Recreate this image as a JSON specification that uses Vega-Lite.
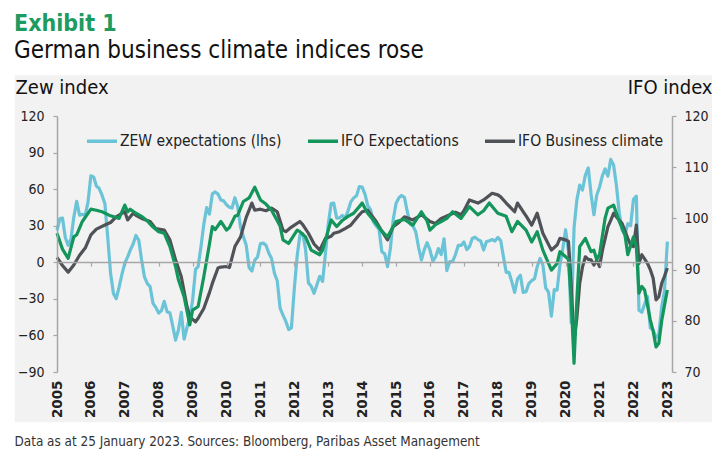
{
"$schema": "https://vega.github.io/schema/vega-lite/v6.json",
"width": 615, "height": 256,
"autosize": {"type": "none"},
"padding": {"left": 57, "top": 116, "right": 53, "bottom": 88},
"background": "white",
"title": {"text": "Exhibit 1", "subtitle": "German business climate indices rose", "anchor": "start", "frame": "group", "dx": -43, "offset": 12,
  "font": "DejaVu Sans Condensed", "fontSize": 23, "fontWeight": "bold", "color": "#1e9b60",
  "subtitleFont": "DejaVu Sans Condensed", "subtitleFontSize": 24, "subtitleColor": "#111", "subtitlePadding": 3},
"datasets": {
"zew": [
{"d":"2005-01","v":26.1},{"d":"2005-02","v":35.9},{"d":"2005-03","v":36.3},{"d":"2005-04","v":20.1},{"d":"2005-05","v":13.9},{"d":"2005-06","v":19.5},{"d":"2005-07","v":37.0},{"d":"2005-08","v":50.0},{"d":"2005-09","v":38.6},{"d":"2005-10","v":39.3},{"d":"2005-11","v":38.7},{"d":"2005-12","v":49.4},
{"d":"2006-01","v":71.0},{"d":"2006-02","v":69.8},{"d":"2006-03","v":62.6},{"d":"2006-04","v":60.5},{"d":"2006-05","v":55.0},{"d":"2006-06","v":48.0},{"d":"2006-07","v":20.8},{"d":"2006-08","v":-9.0},{"d":"2006-09","v":-25.6},{"d":"2006-10","v":-29.8},{"d":"2006-11","v":-20.3},{"d":"2006-12","v":-10.0},
{"d":"2007-01","v":-0.8},{"d":"2007-02","v":4.4},{"d":"2007-03","v":10.0},{"d":"2007-04","v":15.0},{"d":"2007-05","v":22.0},{"d":"2007-06","v":18.0},{"d":"2007-07","v":2.0},{"d":"2007-08","v":-12.0},{"d":"2007-09","v":-17.5},{"d":"2007-10","v":-20.0},{"d":"2007-11","v":-33.7},{"d":"2007-12","v":-37.0},
{"d":"2008-01","v":-41.6},{"d":"2008-02","v":-39.5},{"d":"2008-03","v":-32.0},{"d":"2008-04","v":-40.7},{"d":"2008-05","v":-41.4},{"d":"2008-06","v":-52.4},{"d":"2008-07","v":-63.9},{"d":"2008-08","v":-55.5},{"d":"2008-09","v":-41.1},{"d":"2008-10","v":-63.0},{"d":"2008-11","v":-53.5},{"d":"2008-12","v":-45.2},
{"d":"2009-01","v":-31.0},{"d":"2009-02","v":-5.8},{"d":"2009-03","v":-3.5},{"d":"2009-04","v":13.0},{"d":"2009-05","v":31.1},{"d":"2009-06","v":44.8},{"d":"2009-07","v":39.5},{"d":"2009-08","v":56.1},{"d":"2009-09","v":57.7},{"d":"2009-10","v":56.0},{"d":"2009-11","v":51.1},{"d":"2009-12","v":50.4},
{"d":"2010-01","v":47.2},{"d":"2010-02","v":45.1},{"d":"2010-03","v":44.5},{"d":"2010-04","v":53.0},{"d":"2010-05","v":45.8},{"d":"2010-06","v":28.7},{"d":"2010-07","v":21.2},{"d":"2010-08","v":14.0},{"d":"2010-09","v":-4.3},{"d":"2010-10","v":-7.2},{"d":"2010-11","v":1.8},{"d":"2010-12","v":4.3},
{"d":"2011-01","v":15.4},{"d":"2011-02","v":15.7},{"d":"2011-03","v":14.1},{"d":"2011-04","v":7.6},{"d":"2011-05","v":3.1},{"d":"2011-06","v":-9.0},{"d":"2011-07","v":-15.1},{"d":"2011-08","v":-37.6},{"d":"2011-09","v":-43.3},{"d":"2011-10","v":-48.3},{"d":"2011-11","v":-55.2},{"d":"2011-12","v":-53.8},
{"d":"2012-01","v":-21.6},{"d":"2012-02","v":5.4},{"d":"2012-03","v":22.3},{"d":"2012-04","v":23.4},{"d":"2012-05","v":10.8},{"d":"2012-06","v":-16.9},{"d":"2012-07","v":-19.6},{"d":"2012-08","v":-25.5},{"d":"2012-09","v":-18.2},{"d":"2012-10","v":-11.5},{"d":"2012-11","v":-15.7},{"d":"2012-12","v":6.9},
{"d":"2013-01","v":31.5},{"d":"2013-02","v":48.2},{"d":"2013-03","v":48.5},{"d":"2013-04","v":36.3},{"d":"2013-05","v":36.4},{"d":"2013-06","v":38.5},{"d":"2013-07","v":36.3},{"d":"2013-08","v":42.0},{"d":"2013-09","v":49.6},{"d":"2013-10","v":52.8},{"d":"2013-11","v":54.6},{"d":"2013-12","v":62.0},
{"d":"2014-01","v":61.7},{"d":"2014-02","v":55.7},{"d":"2014-03","v":46.6},{"d":"2014-04","v":43.2},{"d":"2014-05","v":33.1},{"d":"2014-06","v":29.8},{"d":"2014-07","v":27.1},{"d":"2014-08","v":8.6},{"d":"2014-09","v":6.9},{"d":"2014-10","v":-3.6},{"d":"2014-11","v":11.5},{"d":"2014-12","v":34.9},
{"d":"2015-01","v":48.4},{"d":"2015-02","v":53.0},{"d":"2015-03","v":54.8},{"d":"2015-04","v":53.3},{"d":"2015-05","v":41.9},{"d":"2015-06","v":31.5},{"d":"2015-07","v":29.7},{"d":"2015-08","v":25.0},{"d":"2015-09","v":12.1},{"d":"2015-10","v":1.9},{"d":"2015-11","v":10.4},{"d":"2015-12","v":16.1},
{"d":"2016-01","v":10.2},{"d":"2016-02","v":1.0},{"d":"2016-03","v":4.3},{"d":"2016-04","v":11.2},{"d":"2016-05","v":6.4},{"d":"2016-06","v":19.2},{"d":"2016-07","v":-6.8},{"d":"2016-08","v":0.5},{"d":"2016-09","v":0.5},{"d":"2016-10","v":6.2},{"d":"2016-11","v":13.8},{"d":"2016-12","v":13.8},
{"d":"2017-01","v":16.6},{"d":"2017-02","v":10.4},{"d":"2017-03","v":12.8},{"d":"2017-04","v":19.5},{"d":"2017-05","v":20.6},{"d":"2017-06","v":18.6},{"d":"2017-07","v":17.5},{"d":"2017-08","v":10.0},{"d":"2017-09","v":17.0},{"d":"2017-10","v":17.6},{"d":"2017-11","v":18.7},{"d":"2017-12","v":17.4},
{"d":"2018-01","v":20.4},{"d":"2018-02","v":17.8},{"d":"2018-03","v":5.1},{"d":"2018-04","v":-8.2},{"d":"2018-05","v":-8.2},{"d":"2018-06","v":-16.1},{"d":"2018-07","v":-24.7},{"d":"2018-08","v":-13.7},{"d":"2018-09","v":-10.6},{"d":"2018-10","v":-24.7},{"d":"2018-11","v":-24.1},{"d":"2018-12","v":-17.5},
{"d":"2019-01","v":-15.0},{"d":"2019-02","v":-13.4},{"d":"2019-03","v":-3.6},{"d":"2019-04","v":3.1},{"d":"2019-05","v":-2.1},{"d":"2019-06","v":-21.1},{"d":"2019-07","v":-24.5},{"d":"2019-08","v":-44.1},{"d":"2019-09","v":-22.5},{"d":"2019-10","v":-22.8},{"d":"2019-11","v":-2.1},{"d":"2019-12","v":10.7},
{"d":"2020-01","v":26.7},{"d":"2020-02","v":8.7},{"d":"2020-03","v":-49.5},{"d":"2020-04","v":28.2},{"d":"2020-05","v":51.0},{"d":"2020-06","v":63.4},{"d":"2020-07","v":59.3},{"d":"2020-08","v":71.5},{"d":"2020-09","v":77.4},{"d":"2020-10","v":56.1},{"d":"2020-11","v":39.0},{"d":"2020-12","v":55.0},
{"d":"2021-01","v":61.8},{"d":"2021-02","v":71.2},{"d":"2021-03","v":76.6},{"d":"2021-04","v":70.7},{"d":"2021-05","v":84.4},{"d":"2021-06","v":79.8},{"d":"2021-07","v":63.3},{"d":"2021-08","v":40.4},{"d":"2021-09","v":26.5},{"d":"2021-10","v":22.3},{"d":"2021-11","v":31.7},{"d":"2021-12","v":29.9},
{"d":"2022-01","v":51.7},{"d":"2022-02","v":54.3},{"d":"2022-03","v":-39.3},{"d":"2022-04","v":-41.0},{"d":"2022-05","v":-34.3},{"d":"2022-06","v":-28.0},{"d":"2022-07","v":-53.8},{"d":"2022-08","v":-55.3},{"d":"2022-09","v":-61.9},{"d":"2022-10","v":-59.2},{"d":"2022-11","v":-36.7},{"d":"2022-12","v":-23.3},
{"d":"2023-01","v":16.9}
],
"ifo": [
{"d":"2005-01","s":"c","v":92.4},{"d":"2005-03","s":"c","v":90.8},{"d":"2005-05","s":"c","v":89.5},{"d":"2005-07","s":"c","v":90.9},{"d":"2005-09","s":"c","v":92.8},{"d":"2005-11","s":"c","v":94.2},
{"d":"2006-01","s":"c","v":96.8},{"d":"2006-03","s":"c","v":97.9},{"d":"2006-06","s":"c","v":98.7},{"d":"2006-08","s":"c","v":99.2},{"d":"2006-10","s":"c","v":100.3},{"d":"2006-12","s":"c","v":101.0},
{"d":"2007-01","s":"c","v":101.3},{"d":"2007-02","s":"c","v":99.7},{"d":"2007-04","s":"c","v":101.0},{"d":"2007-05","s":"c","v":100.6},{"d":"2007-07","s":"c","v":100.0},{"d":"2007-10","s":"c","v":99.4},{"d":"2007-12","s":"c","v":98.0},
{"d":"2008-03","s":"c","v":97.7},{"d":"2008-05","s":"c","v":95.8},{"d":"2008-07","s":"c","v":91.9},{"d":"2008-09","s":"c","v":88.6},{"d":"2008-11","s":"c","v":82.8},{"d":"2008-12","s":"c","v":80.8},
{"d":"2009-02","s":"c","v":79.8},{"d":"2009-03","s":"c","v":80.5},{"d":"2009-05","s":"c","v":82.4},{"d":"2009-07","s":"c","v":85.5},{"d":"2009-08","s":"c","v":87.3},{"d":"2009-10","s":"c","v":90.3},{"d":"2009-11","s":"c","v":90.5},
{"d":"2010-01","s":"c","v":90.6},{"d":"2010-02","s":"c","v":90.4},{"d":"2010-04","s":"c","v":94.5},{"d":"2010-06","s":"c","v":96.4},{"d":"2010-08","s":"c","v":100.2},{"d":"2010-10","s":"c","v":103.0},{"d":"2010-11","s":"c","v":101.6},
{"d":"2011-01","s":"c","v":101.8},{"d":"2011-03","s":"c","v":101.5},{"d":"2011-05","s":"c","v":102.0},{"d":"2011-07","s":"c","v":101.3},{"d":"2011-09","s":"c","v":97.7},{"d":"2011-10","s":"c","v":97.4},{"d":"2011-12","s":"c","v":98.3},
{"d":"2012-03","s":"c","v":99.4},{"d":"2012-04","s":"c","v":98.8},{"d":"2012-06","s":"c","v":97.1},{"d":"2012-08","s":"c","v":95.0},{"d":"2012-10","s":"c","v":93.8},{"d":"2012-12","s":"c","v":96.1},
{"d":"2013-02","s":"c","v":96.5},{"d":"2013-03","s":"c","v":97.1},{"d":"2013-05","s":"c","v":97.4},{"d":"2013-07","s":"c","v":98.0},{"d":"2013-09","s":"c","v":98.7},{"d":"2013-12","s":"c","v":100.7},
{"d":"2014-01","s":"c","v":101.3},{"d":"2014-03","s":"c","v":101.6},{"d":"2014-06","s":"c","v":99.4},{"d":"2014-08","s":"c","v":97.5},{"d":"2014-10","s":"c","v":95.8},{"d":"2014-12","s":"c","v":98.4},
{"d":"2015-02","s":"c","v":99.2},{"d":"2015-04","s":"c","v":100.3},{"d":"2015-07","s":"c","v":99.7},{"d":"2015-10","s":"c","v":100.7},
{"d":"2016-01","s":"c","v":99.4},{"d":"2016-03","s":"c","v":99.0},{"d":"2016-05","s":"c","v":100.0},{"d":"2016-08","s":"c","v":100.7},{"d":"2016-10","s":"c","v":101.2},{"d":"2016-12","s":"c","v":100.7},
{"d":"2017-01","s":"c","v":101.5},{"d":"2017-03","s":"c","v":103.6},{"d":"2017-06","s":"c","v":103.0},{"d":"2017-08","s":"c","v":103.6},{"d":"2017-11","s":"c","v":104.9},
{"d":"2018-01","s":"c","v":104.6},{"d":"2018-02","s":"c","v":104.2},{"d":"2018-04","s":"c","v":103.0},{"d":"2018-07","s":"c","v":101.3},{"d":"2018-08","s":"c","v":103.0},{"d":"2018-10","s":"c","v":101.3},{"d":"2018-11","s":"c","v":100.5},
{"d":"2019-01","s":"c","v":98.7},{"d":"2019-03","s":"c","v":101.0},{"d":"2019-05","s":"c","v":97.1},{"d":"2019-08","s":"c","v":93.8},{"d":"2019-10","s":"c","v":94.8},{"d":"2019-11","s":"c","v":96.1},
{"d":"2020-01","s":"c","v":95.8},{"d":"2020-02","s":"c","v":95.5},{"d":"2020-03","s":"c","v":87.0},{"d":"2020-04","s":"c","v":76.2},{"d":"2020-05","s":"c","v":80.5},{"d":"2020-06","s":"c","v":87.3},{"d":"2020-07","s":"c","v":90.5},{"d":"2020-08","s":"c","v":92.5},{"d":"2020-09","s":"c","v":92.0},{"d":"2020-10","s":"c","v":91.9},{"d":"2020-11","s":"c","v":90.9},{"d":"2020-12","s":"c","v":91.8},
{"d":"2021-01","s":"c","v":90.6},{"d":"2021-02","s":"c","v":93.8},{"d":"2021-04","s":"c","v":98.4},{"d":"2021-05","s":"c","v":99.6},{"d":"2021-06","s":"c","v":101.0},{"d":"2021-07","s":"c","v":100.3},{"d":"2021-09","s":"c","v":99.0},{"d":"2021-11","s":"c","v":96.1},{"d":"2021-12","s":"c","v":94.8},
{"d":"2022-01","s":"c","v":94.5},{"d":"2022-02","s":"c","v":98.7},{"d":"2022-03","s":"c","v":91.2},{"d":"2022-04","s":"c","v":92.9},{"d":"2022-06","s":"c","v":91.2},{"d":"2022-07","s":"c","v":90.0},{"d":"2022-08","s":"c","v":88.3},{"d":"2022-09","s":"c","v":84.1},{"d":"2022-10","s":"c","v":84.7},{"d":"2022-11","s":"c","v":87.3},{"d":"2022-12","s":"c","v":88.7},{"d":"2023-01","s":"c","v":90.3},
{"d":"2005-01","s":"e","v":97.1},{"d":"2005-03","s":"e","v":94.0},{"d":"2005-05","s":"e","v":92.2},{"d":"2005-07","s":"e","v":96.4},{"d":"2005-08","s":"e","v":96.8},{"d":"2005-10","s":"e","v":99.4},
{"d":"2006-01","s":"e","v":101.8},{"d":"2006-03","s":"e","v":101.6},{"d":"2006-05","s":"e","v":101.3},{"d":"2006-08","s":"e","v":100.5},{"d":"2006-11","s":"e","v":100.0},
{"d":"2007-01","s":"e","v":102.6},{"d":"2007-02","s":"e","v":101.3},{"d":"2007-03","s":"e","v":101.8},{"d":"2007-05","s":"e","v":101.0},{"d":"2007-07","s":"e","v":100.4},{"d":"2007-09","s":"e","v":99.5},{"d":"2007-11","s":"e","v":98.3},
{"d":"2008-01","s":"e","v":97.4},{"d":"2008-03","s":"e","v":97.1},{"d":"2008-05","s":"e","v":94.5},{"d":"2008-07","s":"e","v":90.6},{"d":"2008-08","s":"e","v":88.0},{"d":"2008-10","s":"e","v":84.7},{"d":"2008-12","s":"e","v":79.2},
{"d":"2009-01","s":"e","v":82.1},{"d":"2009-03","s":"e","v":82.8},{"d":"2009-05","s":"e","v":88.6},{"d":"2009-07","s":"e","v":95.0},{"d":"2009-08","s":"e","v":98.4},{"d":"2009-09","s":"e","v":97.8},{"d":"2009-11","s":"e","v":99.4},
{"d":"2010-01","s":"e","v":97.7},{"d":"2010-02","s":"e","v":98.2},{"d":"2010-04","s":"e","v":100.4},{"d":"2010-05","s":"e","v":100.6},{"d":"2010-07","s":"e","v":103.3},{"d":"2010-09","s":"e","v":104.0},{"d":"2010-11","s":"e","v":106.1},
{"d":"2011-01","s":"e","v":103.6},{"d":"2011-03","s":"e","v":102.8},{"d":"2011-05","s":"e","v":101.6},{"d":"2011-08","s":"e","v":98.5},{"d":"2011-09","s":"e","v":95.8},{"d":"2011-11","s":"e","v":95.1},
{"d":"2012-02","s":"e","v":97.7},{"d":"2012-03","s":"e","v":97.4},{"d":"2012-05","s":"e","v":96.4},{"d":"2012-07","s":"e","v":93.8},{"d":"2012-09","s":"e","v":93.2},{"d":"2012-10","s":"e","v":92.9},{"d":"2012-11","s":"e","v":93.8},
{"d":"2013-02","s":"e","v":99.7},{"d":"2013-04","s":"e","v":98.4},{"d":"2013-06","s":"e","v":99.6},{"d":"2013-08","s":"e","v":100.4},{"d":"2013-10","s":"e","v":101.0},{"d":"2013-12","s":"e","v":102.3},
{"d":"2014-01","s":"e","v":103.0},{"d":"2014-03","s":"e","v":101.0},{"d":"2014-06","s":"e","v":99.0},{"d":"2014-08","s":"e","v":97.5},{"d":"2014-10","s":"e","v":96.4},
{"d":"2015-01","s":"e","v":99.4},{"d":"2015-04","s":"e","v":99.8},{"d":"2015-07","s":"e","v":98.7},{"d":"2015-10","s":"e","v":101.3},{"d":"2015-12","s":"e","v":99.5},
{"d":"2016-01","s":"e","v":97.7},{"d":"2016-03","s":"e","v":98.8},{"d":"2016-05","s":"e","v":99.4},{"d":"2016-07","s":"e","v":100.0},{"d":"2016-09","s":"e","v":101.3},{"d":"2016-12","s":"e","v":100.0},
{"d":"2017-03","s":"e","v":102.3},{"d":"2017-06","s":"e","v":100.7},{"d":"2017-08","s":"e","v":101.5},{"d":"2017-10","s":"e","v":103.0},
{"d":"2018-01","s":"e","v":101.0},{"d":"2018-04","s":"e","v":100.4},{"d":"2018-06","s":"e","v":97.4},{"d":"2018-08","s":"e","v":99.4},{"d":"2018-11","s":"e","v":97.7},
{"d":"2019-01","s":"e","v":95.4},{"d":"2019-03","s":"e","v":97.4},{"d":"2019-05","s":"e","v":93.8},{"d":"2019-08","s":"e","v":89.9},{"d":"2019-10","s":"e","v":91.2},{"d":"2019-11","s":"e","v":93.5},
{"d":"2020-01","s":"e","v":92.5},{"d":"2020-02","s":"e","v":92.0},{"d":"2020-03","s":"e","v":84.0},{"d":"2020-04","s":"e","v":71.7},{"d":"2020-05","s":"e","v":84.0},{"d":"2020-06","s":"e","v":94.5},{"d":"2020-08","s":"e","v":96.1},{"d":"2020-10","s":"e","v":93.5},{"d":"2020-11","s":"e","v":93.8},{"d":"2020-12","s":"e","v":91.9},
{"d":"2021-01","s":"e","v":93.0},{"d":"2021-03","s":"e","v":100.0},{"d":"2021-04","s":"e","v":102.0},{"d":"2021-06","s":"e","v":102.6},{"d":"2021-08","s":"e","v":99.4},{"d":"2021-10","s":"e","v":96.8},{"d":"2021-11","s":"e","v":92.9},
{"d":"2022-01","s":"e","v":96.4},{"d":"2022-02","s":"e","v":94.5},{"d":"2022-03","s":"e","v":85.4},{"d":"2022-04","s":"e","v":86.7},{"d":"2022-05","s":"e","v":86.0},{"d":"2022-07","s":"e","v":80.2},{"d":"2022-08","s":"e","v":78.0},{"d":"2022-09","s":"e","v":74.9},{"d":"2022-10","s":"e","v":75.6},{"d":"2022-11","s":"e","v":80.0},{"d":"2022-12","s":"e","v":83.0},{"d":"2023-01","s":"e","v":86.0}
]
},
"layer": [
 {"layer": [
   {"data": {"values": [{}]},
    "mark": {"type": "rect", "color": "#f2f2f2", "clip": false},
    "encoding": {
      "x": {"datum": {"year": 2003, "month": 10, "date": 4}, "type": "temporal"},
      "x2": {"datum": {"year": 2024, "month": 4, "date": 26}},
      "y": {"datum": 153.4, "type": "quantitative",
        "axis": {"zindex": 2, "values": [-90, -60, -30, 0, 30, 60, 90, 120], "labelOverlap": false, "title": "Zew index", "titleAngle": 0, "titleAlign": "left", "titleBaseline": "middle", "titleX": -42, "titleY": -29, "labelPadding": 9, "tickSize": 4, "labelFlush": false}},
      "y2": {"datum": -131.3}
    }},
   {"data": {"name": "zew"},
    "mark": {"type": "line", "strokeWidth": 3.2, "strokeJoin": "round"},
    "encoding": {
      "x": {"field": "d", "type": "temporal",
        "scale": {"domain": [{"year": 2005, "month": 1, "date": 1}, {"year": 2023, "month": 2, "date": 20}]},
        "axis": {"zindex": 2, "format": "%Y", "labelAngle": -90, "labelFont": "DejaVu Sans", "labelFontWeight": "bold", "labelFontSize": 13.5, "labelColor": "#222", "labelPadding": 8, "ticks": false, "domain": false, "tickCount": {"interval": "year", "step": 1}, "labelOverlap": false, "labelFlush": false,
          "title": "Data as at 25 January 2023. Sources: Bloomberg,  Paribas Asset Management", "titleAnchor": "start", "titleAlign": "left", "titleBaseline": "alphabetic", "titleX": -43, "titleY": 73, "titleFontSize": 13.4, "titleColor": "#333", "titleFontWeight": "normal"}},
      "y": {"field": "v", "type": "quantitative",
        "scale": {"domain": [-90, 120], "nice": false, "zero": false},
        "axis": {"zindex": 2, "values": [-90, -60, -30, 0, 30, 60, 90, 120], "labelOverlap": false, "title": "Zew index", "titleAngle": 0, "titleAlign": "left", "titleBaseline": "middle", "titleX": -42, "titleY": -29, "labelPadding": 9, "tickSize": 4, "labelFlush": false}},
      "color": {"datum": "z", "type": "nominal"}
    }}
 ]},
 {"data": {"name": "ifo"},
  "mark": {"type": "line", "strokeWidth": 3.2, "strokeJoin": "round"},
  "encoding": {
    "x": {"field": "d", "type": "temporal",
      "axis": {"zindex": 2, "orient": "bottom", "offset": -110, "labels": false, "ticks": true, "tickSize": 4, "domain": true, "title": null, "tickCount": {"interval": "year", "step": 1}, "grid": false}},
    "y": {"field": "v", "type": "quantitative",
      "scale": {"domain": [70, 120], "nice": false, "zero": false},
      "axis": {"zindex": 2, "orient": "right", "values": [70, 80, 90, 100, 110, 120], "labelOverlap": false, "title": "IFO index", "titleAngle": 0, "titleAlign": "right", "titleBaseline": "middle", "titleX": 40, "titleY": -29, "labelPadding": 8, "tickSize": 4, "labelFlush": false}},
    "color": {"field": "s", "type": "nominal",
      "scale": {"domain": ["z", "e", "c"], "range": ["#6bc3d8", "#14955b", "#4f5257"]},
      "legend": {"labelLimit": 400, "labelExpr": "{'z': 'ZEW expectations (lhs)', 'e': 'IFO Expectations', 'c': 'IFO Business climate'}[datum.label]"}}
  }}
],
"resolve": {"scale": {"y": "independent"}, "axis": {"x": "independent"}},
"config": {
  "view": {"stroke": null},
  "font": "DejaVu Sans Condensed",
  "axis": {"zindex": 2, "grid": false, "labelOverlap": false, "labelFont": "DejaVu Sans Condensed", "labelFontSize": 14, "labelColor": "#222", "domainColor": "#a6a6a6", "tickColor": "#a6a6a6", "domainWidth": 1.5, "tickWidth": 1.2, "titleFont": "DejaVu Sans Condensed", "titleFontSize": 20, "titleFontWeight": "normal", "titleColor": "#111"},
  "legend": {"zindex": 2, "orient": "none", "legendX": 28, "legendY": 8, "direction": "horizontal", "title": null, "symbolType": "stroke", "symbolSize": 900, "symbolStrokeWidth": 3.5, "labelFont": "DejaVu Sans Condensed", "labelFontSize": 15.5, "labelLimit": 400, "labelColor": "#222", "labelOffset": 1, "columnPadding": 19}
}
}
